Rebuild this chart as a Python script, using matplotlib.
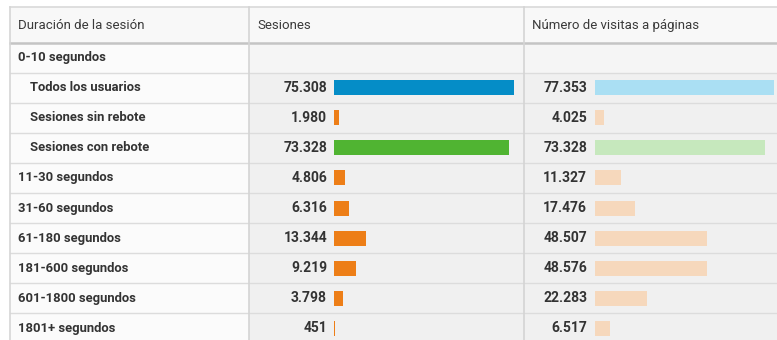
import matplotlib.pyplot as plt
from matplotlib.patches import Rectangle

# table content
row_labels = ["0-10 segundos", "Todos los usuarios", "Sesiones sin rebote",
              "Sesiones con rebote", "11-30 segundos", "31-60 segundos",
              "61-180 segundos", "181-600 segundos", "601-1800 segundos",
              "1801+ segundos"]
indented = [False, True, True, True, False, False, False, False, False, False]
sessions = [None, 75308, 1980, 73328, 4806, 6316, 13344, 9219, 3798, 451]
pageviews = [None, 77353, 4025, 73328, 11327, 17476, 48507, 48576, 22283, 6517]
headers = ["Duración de la sesión", "Sesiones", "Número de visitas a páginas"]

sess_colors = [None, "#058dc7", "#ed7e17", "#50b432", "#ed7e17", "#ed7e17",
               "#ed7e17", "#ed7e17", "#ed7e17", "#ed7e17"]
page_colors = [None, "#aadff3", "#f6d8bc", "#c6e8bd", "#f6d8bc", "#f6d8bc",
               "#f6d8bc", "#f6d8bc", "#f6d8bc", "#f6d8bc"]

plt.rcParams["font.family"] = ["Roboto", "DejaVu Sans"]

W, H = 777, 340
fig = plt.figure(figsize=(W / 100, H / 100), dpi=100)
fig.patch.set_facecolor("white")
ax = fig.add_axes([0, 0, 1, 1])
ax.set_xlim(0, W)
ax.set_ylim(H, 0)
ax.axis("off")

left, col1, col2, right = 9.5, 248.5, 523.5, 790
top, head_bot, row_h = 6.5, 42.5, 30.1

# backgrounds
ax.add_patch(Rectangle((left, top), right - left, head_bot - top, fc="#f8f8f8", ec="none"))
n = len(row_labels)
body_h = row_h * n
ax.add_patch(Rectangle((left, head_bot), col1 - left, body_h, fc="#fbfbfb", ec="none"))
ax.add_patch(Rectangle((col1, head_bot), right - col1, body_h, fc="#f0f0f0", ec="none"))
ax.add_patch(Rectangle((col1, head_bot), right - col1, row_h, fc="#f5f5f5", ec="none"))

# grid lines
ax.plot([left, right], [top, top], color="#d9d9d9", lw=1.2)
ax.plot([left, right], [head_bot, head_bot], color="#c4c4c4", lw=1.8)
for i in range(1, n + 1):
    y = head_bot + i * row_h
    ax.plot([left, right], [y, y], color="#dcdcdc", lw=1)
ax.plot([left, left], [top, H], color="#d6d6d6", lw=1.2)
for x in (col1, col2):
    ax.plot([x, x], [top, H], color="#d4d4d4", lw=1.2)

# header text
head_y = (top + head_bot) / 2 + 1
for x, txt in zip((18, 257, 532), headers):
    ax.text(x, head_y, txt, fontsize=9.5, color="#3a3a3a", va="center", ha="left")

centers = [head_bot + (i + 0.5) * row_h for i in range(n)]
for yc, lab, ind in zip(centers, row_labels, indented):
    ax.text(30 if ind else 18, yc, lab, fontsize=9.4, fontweight="bold",
            color="#333333", va="center", ha="left")

# value labels
for yc, s, p in zip(centers, sessions, pageviews):
    if s is None:
        continue
    ax.text(327, yc, f"{s:,}".replace(",", "."), fontsize=10, fontweight="bold",
            color="#333333", va="center", ha="right")
    ax.text(587, yc, f"{p:,}".replace(",", "."), fontsize=10, fontweight="bold",
            color="#333333", va="center", ha="right")

# in-cell bars, each column scaled to its own maximum
ys = [c for c, s in zip(centers, sessions) if s is not None]
sv = [s for s in sessions if s is not None]
pv = [p for p in pageviews if p is not None]
sc = [c for c in sess_colors if c is not None]
pc = [c for c in page_colors if c is not None]

ax_s = fig.add_axes([334 / W, 0, 180 / W, 1])
ax_s.set_xlim(0, max(sv))
ax_s.set_ylim(H, 0)
ax_s.axis("off")
ax_s.barh(ys, sv, height=15, color=sc, align="center")

ax_p = fig.add_axes([595 / W, 0, 179 / W, 1])
ax_p.set_xlim(0, max(pv))
ax_p.set_ylim(H, 0)
ax_p.axis("off")
ax_p.barh(ys, pv, height=15, color=pc, align="center")

fig.savefig("out.png", dpi=100, facecolor="white")
